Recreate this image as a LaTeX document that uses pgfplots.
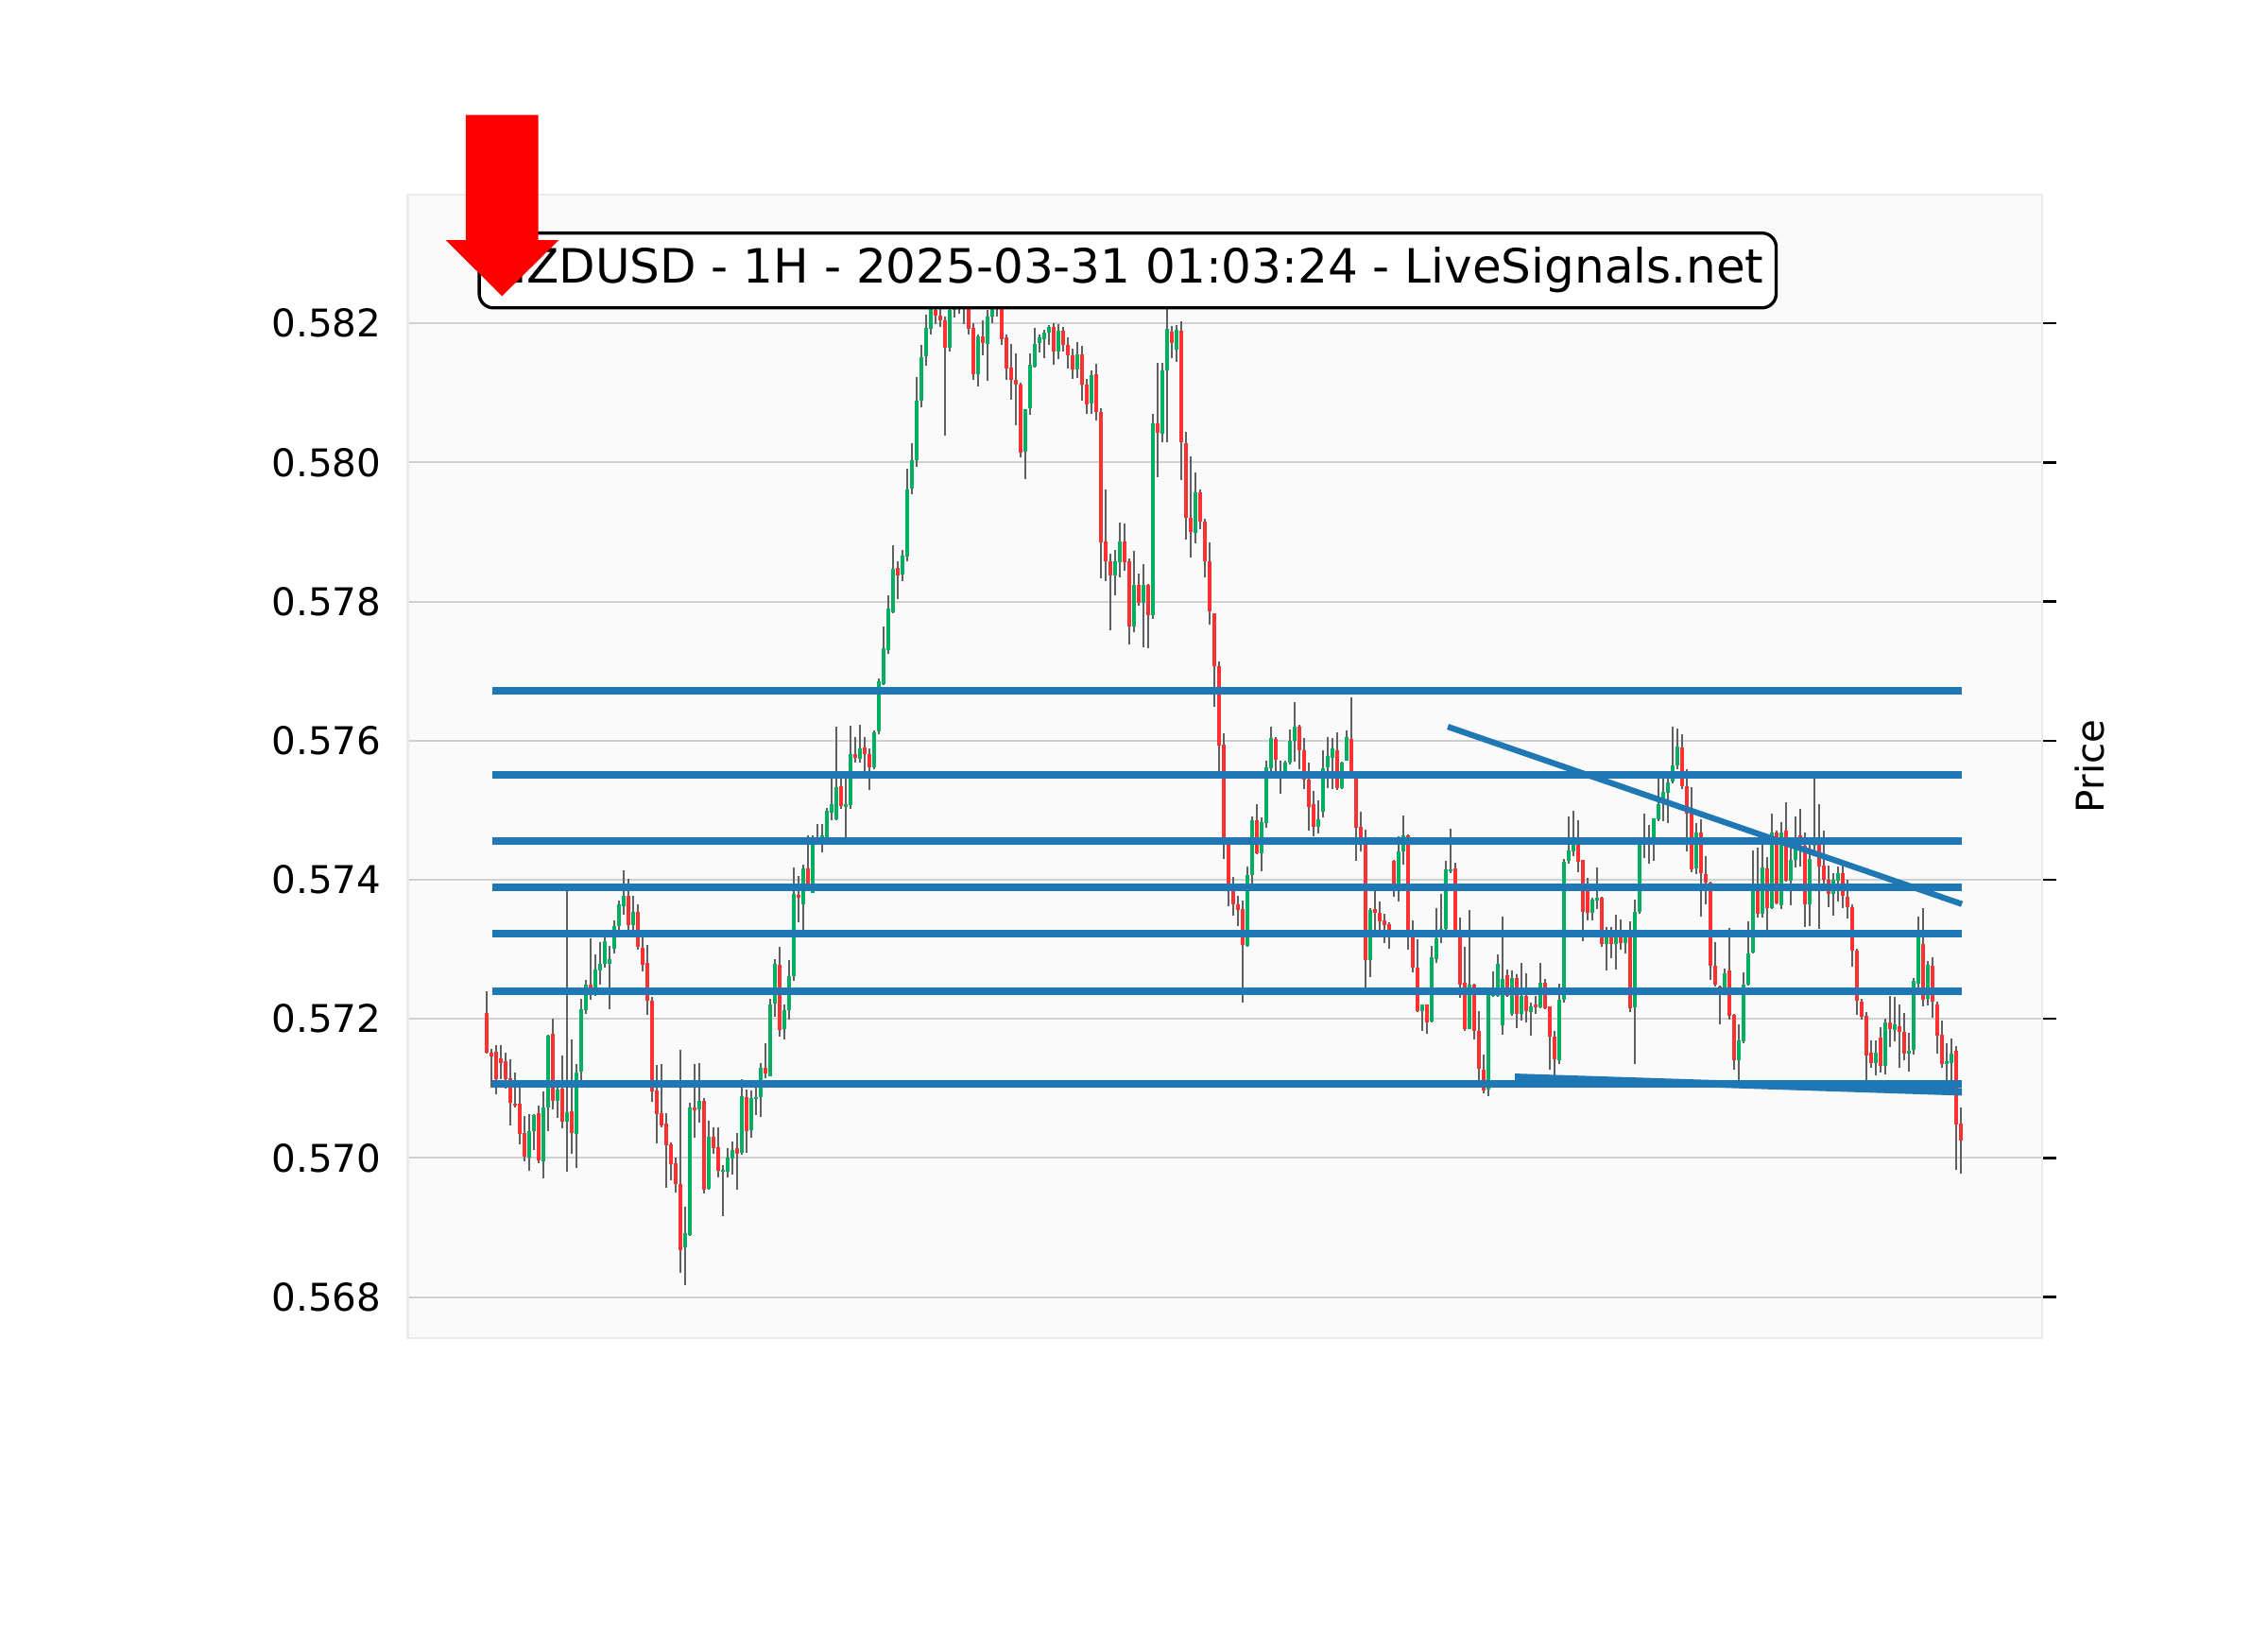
\documentclass[border=0pt]{standalone}
\usepackage{fontspec}
\setmainfont{DejaVu Sans}
\usepackage{pgfplots}
\pgfplotsset{compat=1.18}
\usepackage{pgfplotstable}
\definecolor{upc}{HTML}{00B060}
\definecolor{dnc}{HTML}{FE3032}
\definecolor{wickc}{HTML}{606060}
\definecolor{bgc}{HTML}{FAFAFA}
\definecolor{gridc}{HTML}{D0D0D0}
\definecolor{framec}{HTML}{EBEBEB}
\definecolor{linec}{HTML}{1F77B4}

\pgfplotstableread{
i o h l c
0 0.57209 0.57239 0.57150 0.57152
1 0.57152 0.57157 0.57102 0.57147
2 0.57154 0.57163 0.57093 0.57114
3 0.57144 0.57163 0.57114 0.57138
4 0.57139 0.57152 0.57100 0.57114
5 0.57114 0.57142 0.57047 0.57080
6 0.57079 0.57124 0.57073 0.57076
7 0.57078 0.57102 0.57021 0.57035
8 0.57037 0.57062 0.56997 0.57003
9 0.57003 0.57064 0.56982 0.57041
10 0.57039 0.57064 0.57012 0.57062
11 0.57064 0.57076 0.56993 0.56996
12 0.56996 0.57096 0.56971 0.57073
13 0.57073 0.57178 0.57039 0.57176
14 0.57179 0.57200 0.57070 0.57082
15 0.57083 0.57113 0.57059 0.57100
16 0.57100 0.57149 0.57044 0.57053
17 0.57053 0.57388 0.56980 0.57066
18 0.57068 0.57170 0.57006 0.57037
19 0.57035 0.57136 0.56987 0.57124
20 0.57124 0.57230 0.57112 0.57214
21 0.57213 0.57256 0.57207 0.57250
22 0.57250 0.57317 0.57229 0.57243
23 0.57245 0.57293 0.57234 0.57272
24 0.57270 0.57311 0.57250 0.57280
25 0.57279 0.57320 0.57274 0.57312
26 0.57281 0.57305 0.57214 0.57288
27 0.57301 0.57343 0.57295 0.57334
28 0.57333 0.57370 0.57329 0.57365
29 0.57363 0.57415 0.57351 0.57378
30 0.57378 0.57403 0.57329 0.57336
31 0.57336 0.57379 0.57330 0.57355
32 0.57354 0.57366 0.57300 0.57304
33 0.57304 0.57320 0.57268 0.57279
34 0.57280 0.57306 0.57206 0.57225
35 0.57226 0.57232 0.57082 0.57096
36 0.57097 0.57134 0.57021 0.57064
37 0.57066 0.57135 0.57044 0.57048
38 0.57050 0.57066 0.56959 0.57019
39 0.57021 0.57023 0.56969 0.56992
40 0.56994 0.57000 0.56950 0.56964
41 0.56964 0.57156 0.56836 0.56869
42 0.56872 0.56930 0.56817 0.56892
43 0.56889 0.57080 0.56888 0.57073
44 0.57073 0.57135 0.57029 0.57069
45 0.57070 0.57138 0.57052 0.57083
46 0.57083 0.57087 0.56950 0.56955
47 0.56957 0.57055 0.56955 0.57031
48 0.57031 0.57044 0.57007 0.57014
49 0.57016 0.57044 0.56973 0.56982
50 0.56981 0.56991 0.56918 0.56984
51 0.56980 0.57016 0.56973 0.57001
52 0.57000 0.57025 0.56978 0.57012
53 0.57015 0.57037 0.56955 0.57007
54 0.57007 0.57115 0.57005 0.57089
55 0.57088 0.57099 0.57007 0.57040
56 0.57040 0.57098 0.57031 0.57087
57 0.57086 0.57103 0.57062 0.57089
58 0.57089 0.57138 0.57061 0.57131
59 0.57131 0.57166 0.57115 0.57123
60 0.57119 0.57230 0.57119 0.57221
61 0.57221 0.57287 0.57204 0.57278
62 0.57278 0.57305 0.57175 0.57185
63 0.57186 0.57220 0.57170 0.57214
64 0.57214 0.57286 0.57200 0.57263
65 0.57262 0.57418 0.57255 0.57380
66 0.57380 0.57406 0.57339 0.57375
67 0.57365 0.57423 0.57329 0.57417
68 0.57417 0.57465 0.57390 0.57395
69 0.57382 0.57465 0.57382 0.57458
70 0.57456 0.57480 0.57450 0.57462
71 0.57460 0.57480 0.57440 0.57464
72 0.57462 0.57504 0.57458 0.57499
73 0.57498 0.57546 0.57486 0.57510
74 0.57488 0.57621 0.57487 0.57534
75 0.57534 0.57557 0.57503 0.57506
76 0.57505 0.57551 0.57460 0.57509
77 0.57508 0.57623 0.57503 0.57581
78 0.57581 0.57606 0.57569 0.57576
79 0.57576 0.57624 0.57570 0.57591
80 0.57591 0.57606 0.57555 0.57581
81 0.57582 0.57590 0.57530 0.57563
82 0.57563 0.57616 0.57560 0.57613
83 0.57614 0.57690 0.57610 0.57686
84 0.57683 0.57765 0.57680 0.57734
85 0.57732 0.57809 0.57725 0.57791
86 0.57786 0.57882 0.57785 0.57848
87 0.57849 0.57858 0.57804 0.57839
88 0.57839 0.57875 0.57830 0.57866
89 0.57866 0.57993 0.57860 0.57963
90 0.57963 0.58029 0.57955 0.58004
91 0.58004 0.58124 0.57995 0.58090
92 0.58090 0.58169 0.58080 0.58153
93 0.58152 0.58214 0.58140 0.58194
94 0.58192 0.58235 0.58185 0.58221
95 0.58221 0.58250 0.58200 0.58212
96 0.58212 0.58240 0.58195 0.58205
97 0.58205 0.58210 0.58038 0.58166
98 0.58166 0.58235 0.58160 0.58221
99 0.58221 0.58260 0.58210 0.58240
100 0.58240 0.58270 0.58215 0.58230
101 0.58230 0.58265 0.58200 0.58245
102 0.58245 0.58250 0.58185 0.58192
103 0.58194 0.58200 0.58118 0.58128
104 0.58128 0.58185 0.58110 0.58181
105 0.58181 0.58205 0.58155 0.58171
106 0.58171 0.58220 0.58118 0.58210
107 0.58210 0.58240 0.58200 0.58221
108 0.58221 0.58255 0.58210 0.58235
109 0.58235 0.58245 0.58170 0.58178
110 0.58180 0.58185 0.58120 0.58135
111 0.58137 0.58171 0.58090 0.58119
112 0.58119 0.58158 0.58055 0.58113
113 0.58113 0.58115 0.58008 0.58015
114 0.58015 0.58077 0.57977 0.58077
115 0.58077 0.58158 0.58070 0.58140
116 0.58139 0.58193 0.58137 0.58172
117 0.58172 0.58185 0.58160 0.58180
118 0.58178 0.58190 0.58150 0.58188
119 0.58188 0.58199 0.58170 0.58196
120 0.58196 0.58200 0.58140 0.58160
121 0.58160 0.58200 0.58150 0.58190
122 0.58190 0.58196 0.58160 0.58170
123 0.58170 0.58180 0.58135 0.58155
124 0.58155 0.58165 0.58122 0.58135
125 0.58135 0.58173 0.58122 0.58157
126 0.58157 0.58168 0.58090 0.58113
127 0.58113 0.58120 0.58070 0.58085
128 0.58086 0.58133 0.58070 0.58127
129 0.58127 0.58142 0.58060 0.58072
130 0.58073 0.58079 0.57834 0.57885
131 0.57886 0.57961 0.57830 0.57858
132 0.57858 0.57870 0.57760 0.57838
133 0.57838 0.57875 0.57810 0.57858
134 0.57858 0.57913 0.57835 0.57888
135 0.57888 0.57913 0.57845 0.57858
136 0.57858 0.57863 0.57739 0.57764
137 0.57764 0.57874 0.57757 0.57825
138 0.57825 0.57840 0.57795 0.57798
139 0.57798 0.57855 0.57735 0.57824
140 0.57824 0.57826 0.57733 0.57781
141 0.57781 0.58070 0.57775 0.58056
142 0.58056 0.58144 0.57980 0.58042
143 0.58042 0.58144 0.58030 0.58133
144 0.58133 0.58221 0.58030 0.58192
145 0.58190 0.58197 0.58150 0.58173
146 0.58162 0.58199 0.58145 0.58190
147 0.58190 0.58203 0.57975 0.58029
148 0.58029 0.58045 0.57890 0.57921
149 0.57921 0.58010 0.57865 0.57900
150 0.57900 0.57987 0.57885 0.57958
151 0.57958 0.57962 0.57905 0.57916
152 0.57916 0.57919 0.57835 0.57859
153 0.57859 0.57886 0.57768 0.57787
154 0.57784 0.57784 0.57650 0.57707
155 0.57708 0.57714 0.57555 0.57594
156 0.57595 0.57610 0.57430 0.57455
157 0.57455 0.57458 0.57362 0.57390
158 0.57385 0.57405 0.57350 0.57365
159 0.57365 0.57377 0.57333 0.57357
160 0.57358 0.57371 0.57225 0.57306
161 0.57306 0.57419 0.57304 0.57407
162 0.57408 0.57491 0.57394 0.57487
163 0.57487 0.57509 0.57437 0.57439
164 0.57439 0.57490 0.57412 0.57484
165 0.57482 0.57572 0.57476 0.57562
166 0.57561 0.57621 0.57557 0.57604
167 0.57604 0.57606 0.57556 0.57574
168 0.57557 0.57571 0.57523 0.57558
169 0.57557 0.57572 0.57557 0.57570
170 0.57568 0.57618 0.57567 0.57600
171 0.57600 0.57656 0.57570 0.57621
172 0.57621 0.57624 0.57560 0.57587
173 0.57588 0.57604 0.57530 0.57545
174 0.57545 0.57570 0.57472 0.57506
175 0.57509 0.57528 0.57463 0.57476
176 0.57476 0.57515 0.57467 0.57487
177 0.57499 0.57587 0.57491 0.57561
178 0.57562 0.57605 0.57532 0.57578
179 0.57576 0.57605 0.57531 0.57589
180 0.57588 0.57612 0.57529 0.57533
181 0.57533 0.57570 0.57531 0.57570
182 0.57571 0.57615 0.57571 0.57606
183 0.57604 0.57664 0.57555 0.57556
184 0.57546 0.57546 0.57428 0.57476
185 0.57477 0.57499 0.57442 0.57462
186 0.57462 0.57472 0.57245 0.57286
187 0.57286 0.57361 0.57262 0.57358
188 0.57358 0.57384 0.57317 0.57353
189 0.57353 0.57370 0.57320 0.57341
190 0.57342 0.57351 0.57310 0.57335
191 0.57336 0.57339 0.57301 0.57328
192 0.57428 0.57429 0.57376 0.57395
193 0.57395 0.57463 0.57369 0.57442
194 0.57441 0.57492 0.57422 0.57464
195 0.57464 0.57466 0.57300 0.57317
196 0.57317 0.57343 0.57268 0.57274
197 0.57274 0.57314 0.57210 0.57212
198 0.57212 0.57222 0.57184 0.57222
199 0.57222 0.57222 0.57180 0.57196
200 0.57196 0.57305 0.57196 0.57288
201 0.57288 0.57360 0.57281 0.57317
202 0.57317 0.57381 0.57310 0.57329
203 0.57329 0.57429 0.57320 0.57415
204 0.57414 0.57474 0.57410 0.57417
205 0.57417 0.57425 0.57320 0.57328
206 0.57328 0.57346 0.57230 0.57249
207 0.57252 0.57304 0.57183 0.57186
208 0.57186 0.57358 0.57186 0.57249
209 0.57249 0.57252 0.57172 0.57183
210 0.57183 0.57211 0.57110 0.57129
211 0.57129 0.57150 0.57095 0.57098
212 0.57098 0.57240 0.57090 0.57234
213 0.57234 0.57268 0.57232 0.57243
214 0.57234 0.57293 0.57233 0.57279
215 0.57190 0.57347 0.57177 0.57257
216 0.57263 0.57271 0.57231 0.57233
217 0.57208 0.57270 0.57206 0.57259
218 0.57259 0.57265 0.57188 0.57208
219 0.57208 0.57281 0.57199 0.57233
220 0.57233 0.57265 0.57195 0.57211
221 0.57211 0.57226 0.57178 0.57220
222 0.57222 0.57234 0.57209 0.57218
223 0.57218 0.57281 0.57216 0.57253
224 0.57253 0.57259 0.57215 0.57216
225 0.57218 0.57218 0.57127 0.57175
226 0.57175 0.57184 0.57116 0.57143
227 0.57141 0.57252 0.57136 0.57229
228 0.57229 0.57431 0.57225 0.57427
229 0.57427 0.57492 0.57424 0.57442
230 0.57442 0.57500 0.57435 0.57453
231 0.57461 0.57485 0.57411 0.57427
232 0.57429 0.57429 0.57313 0.57354
233 0.57384 0.57403 0.57342 0.57354
234 0.57354 0.57374 0.57342 0.57373
235 0.57371 0.57419 0.57360 0.57374
236 0.57374 0.57376 0.57304 0.57308
237 0.57308 0.57333 0.57270 0.57324
238 0.57324 0.57333 0.57288 0.57308
239 0.57308 0.57351 0.57272 0.57328
240 0.57328 0.57344 0.57301 0.57310
241 0.57310 0.57322 0.57295 0.57322
242 0.57322 0.57342 0.57211 0.57216
243 0.57216 0.57372 0.57135 0.57354
244 0.57354 0.57451 0.57352 0.57451
245 0.57451 0.57496 0.57433 0.57453
246 0.57452 0.57479 0.57424 0.57460
247 0.57460 0.57489 0.57428 0.57489
248 0.57489 0.57546 0.57484 0.57510
249 0.57510 0.57546 0.57484 0.57527
250 0.57527 0.57546 0.57482 0.57542
251 0.57542 0.57621 0.57540 0.57565
252 0.57565 0.57619 0.57560 0.57591
253 0.57591 0.57610 0.57532 0.57535
254 0.57535 0.57560 0.57441 0.57495
255 0.57495 0.57533 0.57412 0.57416
256 0.57416 0.57483 0.57409 0.57468
257 0.57468 0.57488 0.57349 0.57410
258 0.57410 0.57434 0.57364 0.57397
259 0.57397 0.57399 0.57258 0.57277
260 0.57277 0.57311 0.57247 0.57250
261 0.57247 0.57249 0.57193 0.57243
262 0.57243 0.57273 0.57240 0.57267
263 0.57270 0.57331 0.57200 0.57206
264 0.57206 0.57208 0.57129 0.57141
265 0.57141 0.57192 0.57112 0.57169
266 0.57169 0.57268 0.57166 0.57250
267 0.57250 0.57341 0.57249 0.57295
268 0.57295 0.57442 0.57295 0.57387
269 0.57389 0.57446 0.57346 0.57351
270 0.57351 0.57460 0.57346 0.57417
271 0.57417 0.57433 0.57329 0.57360
272 0.57360 0.57496 0.57359 0.57469
273 0.57469 0.57471 0.57365 0.57366
274 0.57364 0.57483 0.57358 0.57469
275 0.57471 0.57511 0.57397 0.57399
276 0.57399 0.57460 0.57364 0.57429
277 0.57429 0.57492 0.57418 0.57462
278 0.57464 0.57503 0.57420 0.57450
279 0.57450 0.57470 0.57334 0.57366
280 0.57366 0.57460 0.57334 0.57431
281 0.57450 0.57548 0.57440 0.57460
282 0.57460 0.57510 0.57330 0.57420
283 0.57420 0.57470 0.57390 0.57400
284 0.57400 0.57420 0.57360 0.57380
285 0.57380 0.57410 0.57350 0.57400
286 0.57400 0.57420 0.57370 0.57410
287 0.57410 0.57430 0.57360 0.57377
288 0.57377 0.57400 0.57345 0.57361
289 0.57361 0.57365 0.57275 0.57299
290 0.57299 0.57300 0.57205 0.57226
291 0.57226 0.57230 0.57200 0.57205
292 0.57206 0.57210 0.57110 0.57148
293 0.57153 0.57170 0.57130 0.57138
294 0.57138 0.57170 0.57120 0.57153
295 0.57174 0.57190 0.57125 0.57133
296 0.57133 0.57200 0.57120 0.57195
297 0.57195 0.57234 0.57160 0.57185
298 0.57185 0.57234 0.57170 0.57192
299 0.57190 0.57220 0.57130 0.57182
300 0.57182 0.57210 0.57142 0.57151
301 0.57151 0.57180 0.57125 0.57154
302 0.57156 0.57260 0.57150 0.57255
303 0.57252 0.57348 0.57245 0.57320
304 0.57309 0.57361 0.57220 0.57229
305 0.57229 0.57283 0.57220 0.57278
306 0.57278 0.57290 0.57202 0.57226
307 0.57221 0.57225 0.57150 0.57177
308 0.57178 0.57198 0.57130 0.57135
309 0.57135 0.57165 0.57110 0.57138
310 0.57136 0.57173 0.57111 0.57150
311 0.57154 0.57162 0.56983 0.57049
312 0.57050 0.57073 0.56978 0.57025
}\candles

\begin{document}
\begin{tikzpicture}
\fill[white] (0,0) rectangle (576bp,414bp);
\path[use as bounding box] (0,0) rectangle (576bp,414bp);
\begin{axis}[
  at={(103.6bp,74.2bp)}, anchor=south west,
  scale only axis, width=415.06bp, height=290.4bp,
  xmin=-16.68, xmax=329.2,
  ymin=0.567413, ymax=0.583852,
  xtick=\empty,
  ytick={0.568,0.570,0.572,0.574,0.576,0.578,0.580,0.582},
  ytick pos=right, yticklabel pos=left,
  tick align=outside,
  major tick length=3.6bp,
  ytick style={draw=black, line width=0.6bp},
  ymajorgrids, grid style={draw=gridc, line width=0.5bp},
  axis background/.style={fill=bgc},
  axis line style={draw=framec, line width=0.6bp},
  scaled y ticks=false,
  /pgf/number format/assume math mode=true,
  yticklabel style={/pgf/number format/fixed, /pgf/number format/fixed zerofill, /pgf/number format/precision=3,
    font=\fontsize{9.7bp}{11bp}\selectfont, anchor=east, inner sep=0pt, xshift=-3.0bp},
  ylabel={Price},
  ylabel style={at={(axis description cs:1.0292,0.5)}, anchor=center, inner sep=0pt, font=\fontsize{9.7bp}{11bp}\selectfont},
]
% wicks
\addplot[draw=none, mark=none, forget plot,
  error bars/.cd, y dir=both, y explicit, error mark=none,
  error bar style={line width=0.32bp, draw=wickc}]
  table[x=i, y expr={(\thisrow{h}+\thisrow{l})/2}, y error expr={(\thisrow{h}-\thisrow{l})/2}] {\candles};
% up bodies
\addplot[draw=none, mark=none, forget plot, unbounded coords=discard,
  error bars/.cd, y dir=both, y explicit, error mark=none,
  error bar style={line width=0.9bp, draw=upc}]
  table[x=i, y expr={\thisrow{c}>=\thisrow{o} ? (\thisrow{o}+\thisrow{c})/2 : nan}, y error expr={abs(\thisrow{c}-\thisrow{o})/2}] {\candles};
% down bodies
\addplot[draw=none, mark=none, forget plot, unbounded coords=discard,
  error bars/.cd, y dir=both, y explicit, error mark=none,
  error bar style={line width=0.9bp, draw=dnc}]
  table[x=i, y expr={\thisrow{c}<\thisrow{o} ? (\thisrow{o}+\thisrow{c})/2 : nan}, y error expr={abs(\thisrow{c}-\thisrow{o})/2}] {\candles};
% support / resistance lines
\addplot[linec, line width=1.92bp, forget plot] coordinates {(1.2,0.57672) (312.1,0.57672)};
\addplot[linec, line width=1.92bp, forget plot] coordinates {(1.2,0.57551) (312.1,0.57551)};
\addplot[linec, line width=1.92bp, forget plot] coordinates {(1.2,0.57456) (312.1,0.57456)};
\addplot[linec, line width=1.92bp, forget plot] coordinates {(1.2,0.57389) (312.1,0.57389)};
\addplot[linec, line width=1.92bp, forget plot] coordinates {(1.2,0.57323) (312.1,0.57323)};
\addplot[linec, line width=1.92bp, forget plot] coordinates {(1.2,0.57240) (312.1,0.57240)};
\addplot[linec, line width=1.92bp, forget plot] coordinates {(1.2,0.57107) (312.1,0.57107)};
% trend lines
\addplot[linec, line width=1.5bp, forget plot] coordinates {(203.4,0.57620) (312.2,0.57365)};
\addplot[linec, line width=1.9bp, forget plot] coordinates {(217.6,0.57116) (312.2,0.57095)};
\end{axis}
\node[draw=black, line width=0.8bp, fill=white, rounded corners=3.6bp, inner xsep=3.1bp, inner ysep=0pt,
  text height=9.2bp, text depth=2.9bp, minimum height=19bp, font=\fontsize{12bp}{14bp}\selectfont]
  at (286.4bp,345.3bp) {NZDUSD - 1H - 2025-03-31 01:03:24 - LiveSignals.net};
\fill[red] (118.3bp,384.8bp) -- (136.7bp,384.8bp) -- (136.7bp,353bp) -- (141.9bp,353bp)
  -- (127.5bp,338.8bp) -- (113.2bp,353bp) -- (118.3bp,353bp) -- cycle;
\end{tikzpicture}
\end{document}
